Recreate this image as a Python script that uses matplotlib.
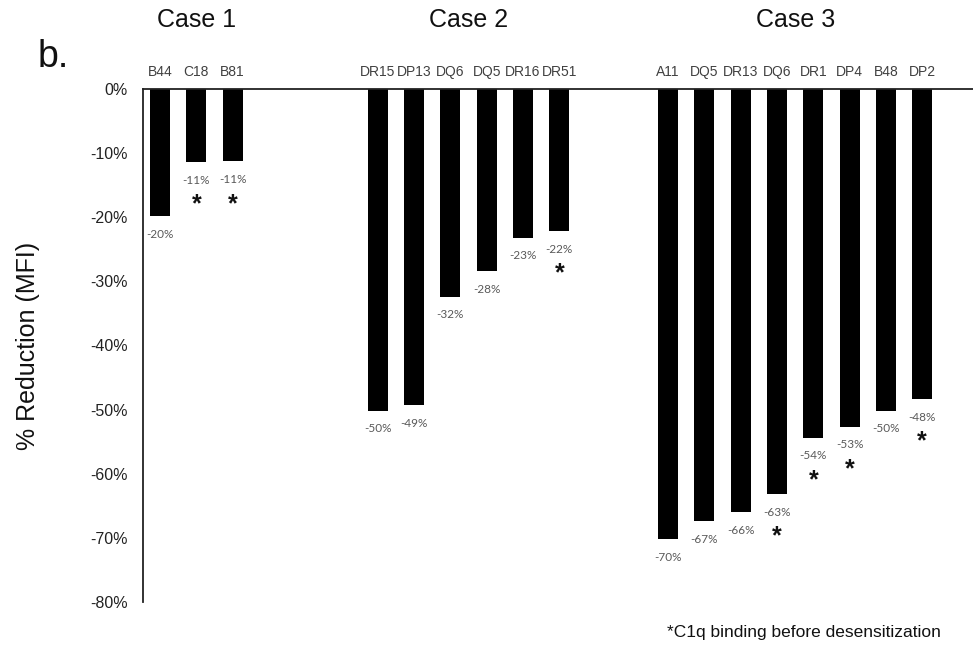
import matplotlib
matplotlib.use("Agg")
import matplotlib.pyplot as plt
import numpy as np

# antigen labels per case, and % reduction in MFI after desensitization
case1_labels = ["B44", "C18", "B81"]
case1_values = [-0.198, -0.114, -0.113]
case1_c1q = [False, True, True]

case2_labels = ["DR15", "DP13", "DQ6", "DQ5", "DR16", "DR51"]
case2_values = [-0.502, -0.493, -0.324, -0.284, -0.232, -0.222]
case2_c1q = [False, False, False, False, False, True]

case3_labels = ["A11", "DQ5", "DR13", "DQ6", "DR1", "DP4", "B48", "DP2"]
case3_values = [-0.702, -0.674, -0.660, -0.632, -0.544, -0.527, -0.502, -0.484]
case3_c1q = [False, False, False, True, True, True, False, True]

case_names = ["Case 1", "Case 2", "Case 3"]
y_ticks = [0, -0.1, -0.2, -0.3, -0.4, -0.5, -0.6, -0.7, -0.8]

# empty slots left between the groups
GAPS = [3, 2]

FONT = "Liberation Sans"
LABEL_FONT = "Lato"


def main():
    groups = [
        (case1_labels, case1_values, case1_c1q),
        (case2_labels, case2_values, case2_c1q),
        (case3_labels, case3_values, case3_c1q),
    ]

    xs, labels, values, flags, centers = [], [], [], [], []
    pos = 0
    for i, (lab, val, flg) in enumerate(groups):
        gx = list(range(pos, pos + len(lab)))
        xs += gx
        labels += lab
        values += val
        flags += flg
        centers.append(np.mean(gx))
        pos += len(lab)
        if i < len(GAPS):
            pos += GAPS[i]

    fig = plt.figure(figsize=(9.73, 6.45), dpi=100)
    ax = fig.add_axes([0.147, 0.0667, 0.853, 0.7953])

    ax.bar(xs, values, width=0.55, color="black", zorder=2)

    ax.set_xlim(-0.47, 22.4)
    ax.set_ylim(-0.8, 0)

    # category labels sit above the zero line
    ax.set_xticks(xs)
    ax.set_xticklabels(labels, fontsize=10, family=FONT, color="#404040")
    ax.tick_params(axis="x", bottom=False, labelbottom=False, top=True,
                   labeltop=True, length=0, pad=7)

    ax.set_yticks(y_ticks)
    ax.set_yticklabels([f"{v * 100:.0f}%" for v in y_ticks], fontsize=11.5,
                       family=FONT, color="#222222")
    ax.tick_params(axis="y", length=0, pad=11)

    for side in ["right", "bottom"]:
        ax.spines[side].set_visible(False)
    for side in ["left", "top"]:
        ax.spines[side].set_color("#222222")
        ax.spines[side].set_linewidth(1.3)

    # value labels and C1q markers under each bar
    for x, v, f in zip(xs, values, flags):
        ax.annotate(f"{v * 100:.0f}%", (x, v), xytext=(0, -13),
                    textcoords="offset points", ha="center", va="center",
                    fontsize=8.5, family=LABEL_FONT, color="#595959")
        if f:
            ax.annotate("*", (x, v), xytext=(0, -30.5),
                        textcoords="offset points", ha="center", va="center",
                        fontsize=18, fontweight="bold", family=FONT,
                        color="#111111")

    ax.set_ylabel("% Reduction (MFI)", fontsize=18, family=FONT,
                  color="#111111", labelpad=36)

    for c, name in zip(centers, case_names):
        ax.annotate(name, (c, 1), xycoords=("data", "axes fraction"),
                    xytext=(0, 50), textcoords="offset points",
                    ha="center", va="center", fontsize=18, family=FONT,
                    color="#111111")

    fig.text(0.039, 0.911, "b.", fontsize=27, family=FONT, color="#111111",
             ha="left", va="center")
    fig.text(0.686, 0.02, "*C1q binding before desensitization", fontsize=12.5,
             family=FONT, color="#111111", ha="left", va="center")

    fig.savefig("out.png", dpi=100)


if __name__ == "__main__":
    main()
